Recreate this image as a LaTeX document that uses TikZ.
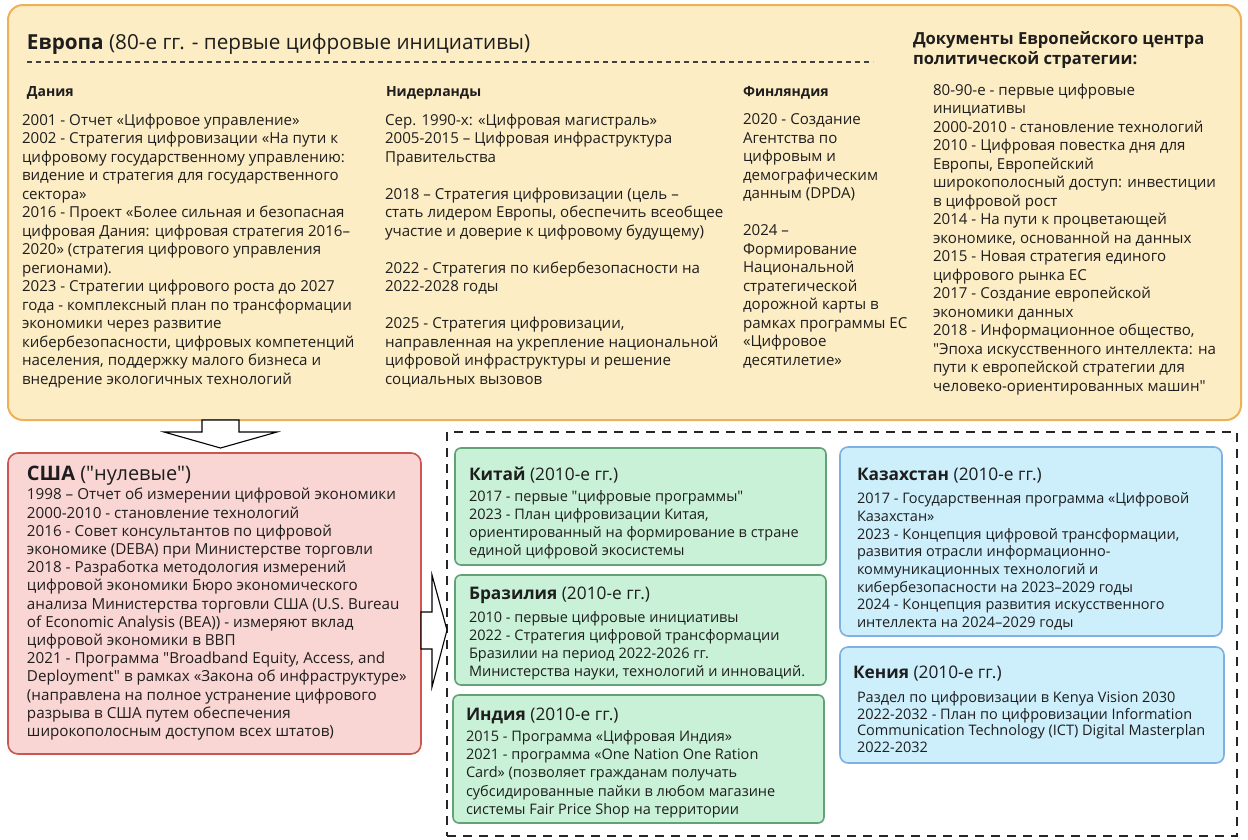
\documentclass[tikz,border=0pt]{standalone}
\usepackage{fontspec}
\setmainfont{Open Sans}[Ligatures=TeXOff]
\definecolor{eufill}{HTML}{FDEDC4}
\definecolor{eudraw}{HTML}{EDB15A}
\definecolor{usfill}{HTML}{F9D6D4}
\definecolor{usdraw}{HTML}{C9574F}
\definecolor{grfill}{HTML}{C9F1D7}
\definecolor{grdraw}{HTML}{62A276}
\definecolor{blfill}{HTML}{CDEEFB}
\definecolor{bldraw}{HTML}{7FB0E2}
\definecolor{ink}{HTML}{1E1E1E}
\newcommand{\fsz}[2]{\fontsize{#1}{#2}\selectfont}
\newcommand{\dq}{"}
\tikzset{
  panel/.style={draw, anchor=north west, inner sep=0pt, outer sep=0pt},
  txt/.style={anchor=north west, inner sep=0pt, outer sep=0pt, align=left, text=ink, execute at begin node=\strut},
  eubody/.style={txt, font=\fsz{15.1}{18.5}},
  euhead/.style={txt, font=\fsz{14}{18.5}\bfseries},
  bighead/.style={txt, font=\fsz{20.7}{24}},
  ushead/.style={txt, font=\fsz{20}{22}},
  usbody/.style={txt, font=\fsz{15.2}{18.2}},
  cthead/.style={txt, font=\fsz{17.3}{19.5}},
  ctbody/.style={txt, font=\fsz{14.5}{18}},
  blockarrow/.style={draw=black, fill=white, line width=1.1pt, line join=miter},
}
\begin{document}
\begin{tikzpicture}[x=1pt, y=-1pt]
\useasboundingbox (0,0) rectangle (1248,839);
% panels
\node[panel, fill=eufill, draw=eudraw, line width=2pt, rounded corners=15pt, minimum width=1233pt, minimum height=415pt] (eu) at (8,5) {};
\node[panel, fill=usfill, draw=usdraw, line width=1.6pt, rounded corners=10pt, minimum width=413pt, minimum height=301pt] (us) at (8,453) {};
\node[panel, draw=black!85, line width=1.3pt, dash pattern=on 9pt off 7pt, minimum width=790pt, minimum height=404pt] (grp) at (447,432) {};
\node[panel, fill=grfill, draw=grdraw, line width=1.6pt, rounded corners=6pt, minimum width=371pt, minimum height=117pt] (cn) at (455,448) {};
\node[panel, fill=grfill, draw=grdraw, line width=1.6pt, rounded corners=6pt, minimum width=371pt, minimum height=110pt] (br) at (455,575) {};
\node[panel, fill=grfill, draw=grdraw, line width=1.6pt, rounded corners=6pt, minimum width=371pt, minimum height=128pt] (in) at (453,695) {};
\node[panel, fill=blfill, draw=bldraw, line width=1.6pt, rounded corners=8pt, minimum width=382pt, minimum height=189pt] (kz) at (840,447) {};
\node[panel, fill=blfill, draw=bldraw, line width=1.6pt, rounded corners=8pt, minimum width=384pt, minimum height=116pt] (ke) at (840,647) {};
% block arrows
\draw[blockarrow] (202,420) -- (239,420) -- (239,432) -- (277,432) -- (220.5,448) -- (164,432) -- (202,432) -- cycle;
\draw[blockarrow] (421,612) -- (432,612) -- (432,575) -- (447,630) -- (432,687) -- (432,649) -- (421,649) -- cycle;
% Europe
\node[bighead] (eut) at (27,32.2) {\textbf{Европа} (80-е гг. - первые цифровые инициативы)};
\coordinate (dl1) at (27,62);
\coordinate (dl2) at (873,62);
\draw[black!75, line width=1.2pt, dash pattern=on 5pt off 4pt] (dl1) -- (dl2);
\node[txt, font=\fsz{16.6}{19.5}\bfseries] (doch) at (913,32) {Документы Европейского центра\\политической стратегии:};
\node[euhead] (dkh) at (27,84) {Дания};
\node[euhead] (nlh) at (386,84) {Нидерланды};
\node[euhead] (fih) at (743,84) {Финляндия};
\node[eubody] (dk) at (22,114) {2001 - Отчет «Цифровое управление»\\
2002 - Стратегия цифровизации «На пути к\\
цифровому государственному управлению:\\
видение и стратегия для государственного\\
сектора»\\
2016 - Проект «Более сильная и безопасная\\
цифровая Дания: цифровая стратегия 2016–\\
2020» (стратегия цифрового управления\\
регионами).\\
2023 - Стратегии цифрового роста до 2027\\
года - комплексный план по трансформации\\
экономики через развитие\\
кибербезопасности, цифровых компетенций\\
населения, поддержку малого бизнеса и\\
внедрение экологичных технологий};
\node[eubody] (nl) at (385,114) {Сер. 1990-х: «Цифровая магистраль»\\
2005-2015 – Цифровая инфраструктура\\
Правительства\\
~\\
2018 – Стратегия цифровизации (цель –\\
стать лидером Европы, обеспечить всеобщее\\
участие и доверие к цифровому будущему)\\
~\\
2022 - Стратегия по кибербезопасности на\\
2022-2028 годы\\
~\\
2025 - Стратегия цифровизации,\\
направленная на укрепление национальной\\
цифровой инфраструктуры и решение\\
социальных вызовов};
\node[eubody] (fi) at (743,114) {2020 - Создание\\
Агентства по\\
цифровым и\\
демографическим\\
данным (DPDA)\\
~\\
2024 –\\
Формирование\\
Национальной\\
стратегической\\
дорожной карты в\\
рамках программы ЕС\\
«Цифровое\\
десятилетие»};
\node[eubody] (doc) at (933,84) {80-90-е - первые цифровые\\
инициативы\\
2000-2010 - становление технологий\\
2010 - Цифровая повестка дня для\\
Европы, Европейский\\
широкополосный доступ: инвестиции\\
в цифровой рост\\
2014 - На пути к процветающей\\
экономике, основанной на данных\\
2015 - Новая стратегия единого\\
цифрового рынка ЕС\\
2017 - Создание европейской\\
экономики данных\\
2018 - Информационное общество,\\
"Эпоха искусственного интеллекта: на\\
пути к европейской стратегии для\\
человеко-ориентированных машин"};
% USA
\node[ushead] (ust) at (27,464.6) {\textbf{США} ("нулевые")};
\node[usbody] (usb) at (27,488.3) {1998 – Отчет об измерении цифровой экономики\\
2000-2010 - становление технологий\\
2016 - Совет консультантов по цифровой\\
экономике (DEBA) при Министерстве торговли\\
2018 - Разработка методология измерений\\
цифровой экономики Бюро экономического\\
анализа Министерства торговли США (U.S. Bureau\\
of Economic Analysis (BEA)) - измеряют вклад\\
цифровой экономики в ВВП\\
2021 - Программа "Broadband Equity, Access, and\\
Deployment" в рамках «Закона об инфраструктуре»\\
(направлена на полное устранение цифрового\\
разрыва в США путем обеспечения\\
широкополосным доступом всех штатов)};
% China
\node[cthead] (cnt) at (469,466.4) {\textbf{Китай} (2010-е гг.)};
\node[ctbody] (cnb) at (469,490.4) {2017 - первые "цифровые программы"\\
2023 - План цифровизации Китая,\\
ориентированный на формирование в стране\\
единой цифровой экосистемы};
% Brazil
\node[cthead] (brt) at (469,585.4) {\textbf{Бразилия} (2010-е гг.)};
\node[ctbody] (brb) at (469,611.4) {2010 - первые цифровые инициативы\\
2022 - Стратегия цифровой трансформации\\
Бразилии на период 2022-2026 гг.\\
Министерства науки, технологий и инноваций.};
% India
\node[cthead] (int) at (466,706.4) {\textbf{Индия} (2010-е гг.)};
\node[ctbody, font=\fsz{14.5}{18.25}] (inb) at (466,730.3) {2015 - Программа «Цифровая Индия»\\
2021 - программа «One Nation One Ration\\
Card» (позволяет гражданам получать\\
субсидированные пайки в любом магазине\\
системы Fair Price Shop на территории};
% Kazakhstan
\node[cthead] (kzt) at (857,466.4) {\textbf{Казахстан} (2010-е гг.)};
\node[ctbody, font=\fsz{14.5}{17.7}] (kzb) at (857,492.6) {2017 - Государственная программа «Цифровой\\
Казахстан»\\
2023 - Концепция цифровой трансформации,\\
развития отрасли информационно-\\
коммуникационных технологий и\\
кибербезопасности на 2023–2029 годы\\
2024 - Концепция развития искусственного\\
интеллекта на 2024–2029 годы};
% Kenya
\node[cthead] (ket) at (853,664.4) {\textbf{Кения} (2010-е гг.)};
\node[ctbody, font=\fsz{14.5}{16.8}] (keb) at (857,691.2) {Раздел по цифровизации в Kenya Vision 2030\\
2022-2032 - План по цифровизации Information\\
Communication Technology (ICT) Digital Masterplan\\
2022-2032};
\end{tikzpicture}
\end{document}
